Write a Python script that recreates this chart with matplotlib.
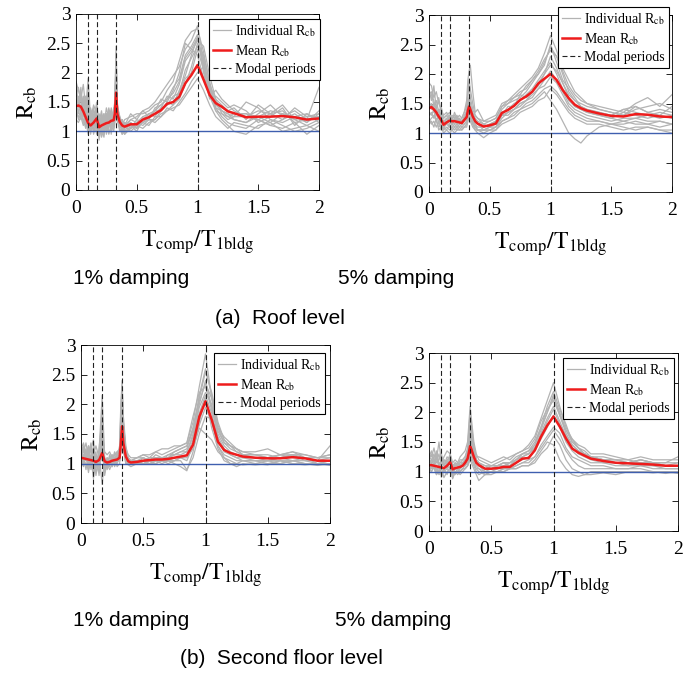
import matplotlib.pyplot as plt
from matplotlib.ticker import FuncFormatter

plt.rcParams['font.family'] = 'Liberation Serif'
plt.rcParams['mathtext.fontset'] = 'stix'

# period ratio grid shared by every curve (finer around the higher modes)
period_ratio = [0.00, 0.02, 0.04, 0.06, 0.08, 0.10, 0.12, 0.145, 0.17, 0.19,
                0.21, 0.23, 0.25, 0.27, 0.29, 0.31, 0.32, 0.33, 0.34, 0.36,
                0.38, 0.40, 0.45, 0.50, 0.55, 0.60, 0.65, 0.70, 0.75, 0.80,
                0.85, 0.90, 0.95, 1.00, 1.05, 1.10, 1.15, 1.20, 1.25, 1.30,
                1.40, 1.50, 1.60, 1.70, 1.80, 1.90, 2.00]
modal_periods = [0.1, 0.17, 0.33, 1.0]

# roof level, 1% damping
roof_1pct_mean = [1.43, 1.44, 1.42, 1.34, 1.24, 1.14, 1.10, 1.15, 1.22, 1.07,
                  1.10, 1.12, 1.14, 1.15, 1.18, 1.19, 1.30, 1.66, 1.30, 1.16,
                  1.10, 1.08, 1.12, 1.12, 1.20, 1.24, 1.30, 1.36, 1.47, 1.50,
                  1.59, 1.82, 1.96, 2.13, 1.88, 1.62, 1.48, 1.42, 1.34, 1.31,
                  1.24, 1.25, 1.25, 1.26, 1.24, 1.20, 1.22]
roof_1pct_runs = [
    [1.85, 1.70, 1.55, 1.80, 1.40, 1.90, 1.20, 1.45, 1.30, 1.05,
     1.25, 1.10, 1.40, 1.20, 1.30, 1.25, 1.55, 2.45, 1.45, 1.25,
     1.15, 1.05, 1.20, 1.25, 1.35, 1.40, 1.50, 1.65, 1.80, 1.95,
     2.10, 2.40, 2.55, 2.80, 2.20, 1.70, 1.45, 1.35, 1.30, 1.20,
     1.15, 1.30, 1.45, 1.25, 1.35, 1.20, 1.75],
    [1.60, 1.75, 1.50, 1.30, 1.55, 1.10, 1.30, 1.00, 1.35, 1.15,
     1.00, 1.30, 1.05, 1.35, 1.10, 1.40, 1.35, 2.10, 1.30, 1.05,
     1.20, 1.00, 1.15, 1.05, 1.25, 1.20, 1.40, 1.45, 1.55, 1.75,
     1.90, 2.30, 2.45, 2.65, 2.00, 1.55, 1.60, 1.50, 1.40, 1.45,
     1.35, 1.15, 1.25, 1.40, 1.10, 1.30, 1.15],
    [1.25, 1.35, 1.45, 1.20, 1.05, 1.30, 0.95, 1.25, 1.10, 0.90,
     1.20, 0.95, 1.15, 1.05, 1.25, 1.05, 1.20, 1.80, 1.15, 1.20,
     0.95, 1.10, 1.00, 1.10, 1.05, 1.15, 1.20, 1.30, 1.35, 1.45,
     1.55, 1.80, 2.10, 2.50, 2.30, 1.85, 1.40, 1.25, 1.15, 1.10,
     1.05, 1.20, 1.10, 1.05, 1.15, 0.95, 1.10],
    [1.45, 1.55, 1.30, 1.40, 1.15, 1.35, 1.05, 1.10, 1.50, 1.00,
     1.15, 1.25, 1.00, 1.30, 1.15, 1.30, 1.40, 2.25, 1.35, 1.10,
     1.05, 1.15, 1.10, 1.00, 1.20, 1.30, 1.25, 1.40, 1.60, 1.55,
     1.80, 2.20, 2.35, 2.55, 2.45, 1.95, 1.55, 1.30, 1.20, 1.25,
     1.50, 1.40, 1.20, 1.15, 1.25, 1.30, 1.20],
    [1.20, 1.15, 1.25, 1.10, 1.20, 0.95, 1.15, 1.05, 1.00, 1.10,
     0.90, 1.05, 1.10, 0.95, 1.10, 1.00, 1.15, 1.60, 1.20, 1.00,
     1.05, 0.95, 1.05, 1.15, 1.10, 1.20, 1.15, 1.25, 1.40, 1.35,
     1.50, 1.65, 1.85, 2.00, 2.10, 1.75, 1.35, 1.20, 1.10, 1.00,
     0.95, 1.10, 1.15, 1.00, 1.05, 1.10, 1.00],
    [1.70, 1.50, 1.65, 1.45, 1.60, 1.25, 1.40, 1.20, 1.15, 1.30,
     1.10, 1.20, 1.30, 1.15, 1.40, 1.15, 1.30, 2.00, 1.40, 1.15,
     1.20, 1.10, 1.30, 1.20, 1.35, 1.25, 1.35, 1.55, 1.50, 1.70,
     2.00, 2.50, 2.40, 2.30, 1.90, 1.60, 1.70, 1.55, 1.45, 1.35,
     1.25, 1.35, 1.30, 1.45, 1.20, 1.25, 1.30],
    [1.30, 1.25, 1.35, 1.15, 1.30, 1.05, 1.00, 1.30, 0.95, 1.20,
     1.05, 0.90, 1.25, 1.00, 1.05, 1.20, 1.25, 1.90, 1.25, 1.05,
     0.95, 1.00, 1.05, 1.10, 1.15, 1.10, 1.25, 1.25, 1.35, 1.40,
     1.45, 1.60, 1.75, 1.90, 1.70, 1.45, 1.25, 1.15, 1.05, 1.15,
     1.10, 1.05, 1.20, 1.10, 1.00, 1.05, 1.15],
    [1.55, 1.40, 1.75, 1.25, 1.45, 1.60, 1.15, 1.35, 1.25, 0.95,
     1.30, 1.15, 1.20, 1.40, 1.20, 1.35, 1.50, 2.35, 1.40, 1.25,
     1.10, 1.20, 1.25, 1.30, 1.30, 1.35, 1.45, 1.50, 1.70, 1.85,
     2.20, 2.55, 2.70, 2.75, 2.35, 1.80, 1.55, 1.45, 1.35, 1.30,
     1.30, 1.25, 1.35, 1.30, 1.25, 1.15, 1.35],
    [1.35, 1.60, 1.20, 1.50, 1.25, 1.70, 1.05, 1.20, 1.45, 1.15,
     1.35, 1.05, 1.30, 1.10, 1.35, 1.10, 1.45, 2.15, 1.50, 1.10,
     1.05, 1.15, 1.05, 1.20, 1.15, 1.25, 1.35, 1.35, 1.45, 1.60,
     1.65, 2.05, 2.25, 2.45, 2.25, 1.65, 1.50, 1.40, 1.35, 1.40,
     1.20, 1.45, 1.30, 1.20, 1.40, 1.25, 1.25],
    [1.50, 1.30, 1.60, 1.35, 1.10, 1.45, 1.25, 0.95, 1.20, 1.05,
     1.20, 1.30, 0.95, 1.20, 1.05, 1.25, 1.25, 1.70, 1.20, 1.15,
     1.00, 1.05, 1.15, 1.05, 1.15, 1.20, 1.20, 1.35, 1.50, 1.45,
     1.70, 1.95, 2.30, 2.60, 2.10, 1.60, 1.35, 1.30, 1.25, 1.20,
     1.15, 1.25, 1.15, 1.30, 1.20, 1.10, 1.20],
    [1.40, 1.20, 1.30, 1.55, 1.35, 1.00, 1.35, 1.15, 1.40, 0.85,
     1.15, 1.00, 1.20, 1.25, 0.95, 1.30, 1.30, 2.05, 1.35, 1.20,
     1.10, 0.95, 1.10, 1.05, 1.20, 1.25, 1.30, 1.40, 1.45, 1.50,
     1.65, 1.90, 2.00, 2.40, 2.05, 1.65, 1.40, 1.35, 1.25, 1.30,
     1.30, 1.20, 1.10, 1.20, 1.30, 1.15, 1.30],
    [1.75, 1.45, 1.40, 1.60, 1.30, 1.50, 1.10, 1.40, 1.05, 1.25,
     0.95, 1.25, 1.15, 1.25, 1.30, 1.10, 1.35, 2.20, 1.30, 1.15,
     1.15, 1.10, 1.20, 1.15, 1.25, 1.30, 1.35, 1.45, 1.55, 1.65,
     1.85, 2.25, 2.40, 2.60, 2.15, 1.75, 1.50, 1.35, 1.30, 1.25,
     1.25, 1.20, 1.30, 1.35, 1.15, 1.20, 1.25],
]

# roof level, 5% damping
roof_5pct_mean = [1.42, 1.44, 1.40, 1.35, 1.28, 1.22, 1.14, 1.18, 1.21, 1.20,
                  1.20, 1.19, 1.18, 1.17, 1.22, 1.27, 1.38, 1.45, 1.40, 1.28,
                  1.20, 1.16, 1.11, 1.13, 1.16, 1.34, 1.39, 1.46, 1.56, 1.62,
                  1.70, 1.84, 1.92, 2.00, 1.90, 1.73, 1.59, 1.48, 1.42, 1.38,
                  1.33, 1.29, 1.28, 1.32, 1.31, 1.28, 1.27]
roof_5pct_runs = [
    [1.85, 1.80, 1.60, 1.70, 1.50, 1.40, 1.30, 1.35, 1.25, 1.30,
     1.25, 1.30, 1.20, 1.25, 1.35, 1.55, 1.90, 2.05, 2.15, 1.70,
     1.35, 1.40, 1.20, 1.25, 1.30, 1.50, 1.55, 1.65, 1.75, 1.85,
     1.95, 2.10, 2.35, 2.65, 2.40, 2.05, 1.80, 1.65, 1.55, 1.50,
     1.45, 1.40, 1.35, 1.50, 1.60, 1.45, 1.65],
    [1.60, 1.65, 1.55, 1.35, 1.40, 1.25, 1.20, 1.15, 1.30, 1.25,
     1.30, 1.20, 1.25, 1.15, 1.30, 1.35, 1.50, 1.60, 1.50, 1.35,
     1.25, 1.20, 1.15, 1.10, 1.20, 1.40, 1.50, 1.55, 1.60, 1.70,
     1.85, 2.00, 2.15, 2.50, 2.20, 1.90, 1.75, 1.60, 1.45, 1.40,
     1.35, 1.30, 1.40, 1.35, 1.30, 1.35, 1.30],
    [1.20, 1.25, 1.30, 1.20, 1.10, 1.15, 1.05, 1.10, 1.05, 1.10,
     1.05, 1.10, 1.05, 1.10, 1.10, 1.15, 1.25, 1.30, 1.25, 1.15,
     1.05, 1.00, 0.92, 1.00, 1.05, 1.20, 1.25, 1.30, 1.40, 1.45,
     1.50, 1.60, 1.70, 1.55, 1.40, 1.20, 1.00, 0.90, 0.83, 0.95,
     1.10, 1.15, 1.10, 1.05, 1.10, 1.05, 1.00],
    [1.50, 1.45, 1.50, 1.40, 1.35, 1.20, 1.15, 1.25, 1.15, 1.20,
     1.15, 1.20, 1.25, 1.20, 1.25, 1.30, 1.45, 1.55, 1.45, 1.30,
     1.20, 1.15, 1.10, 1.15, 1.20, 1.35, 1.40, 1.50, 1.55, 1.65,
     1.75, 1.90, 2.05, 2.20, 2.00, 1.75, 1.55, 1.45, 1.40, 1.35,
     1.30, 1.25, 1.20, 1.25, 1.30, 1.25, 1.30],
    [1.30, 1.35, 1.25, 1.45, 1.15, 1.30, 1.05, 1.20, 1.10, 1.15,
     1.10, 1.15, 1.10, 1.15, 1.15, 1.20, 1.30, 1.40, 1.35, 1.20,
     1.15, 1.05, 1.05, 1.10, 1.10, 1.30, 1.30, 1.40, 1.45, 1.55,
     1.60, 1.75, 1.80, 1.95, 1.85, 1.65, 1.45, 1.35, 1.30, 1.25,
     1.20, 1.15, 1.15, 1.20, 1.15, 1.10, 1.15],
    [1.75, 1.55, 1.80, 1.40, 1.60, 1.35, 1.25, 1.30, 1.35, 1.20,
     1.35, 1.25, 1.30, 1.25, 1.35, 1.45, 1.65, 1.80, 1.60, 1.40,
     1.30, 1.25, 1.20, 1.20, 1.25, 1.45, 1.55, 1.60, 1.70, 1.75,
     1.90, 2.05, 2.25, 2.40, 2.30, 2.10, 1.90, 1.70, 1.60, 1.50,
     1.40, 1.35, 1.30, 1.45, 1.35, 1.40, 1.35],
    [1.15, 1.20, 1.10, 1.25, 1.05, 1.10, 1.00, 1.05, 1.00, 1.05,
     1.00, 1.05, 1.05, 1.05, 1.10, 1.10, 1.20, 1.25, 1.20, 1.10,
     1.05, 1.05, 1.00, 1.05, 1.05, 1.15, 1.20, 1.25, 1.35, 1.40,
     1.45, 1.55, 1.60, 1.75, 1.65, 1.50, 1.35, 1.25, 1.20, 1.15,
     1.15, 1.10, 1.05, 1.10, 1.10, 1.05, 1.05],
    [1.40, 1.50, 1.35, 1.30, 1.25, 1.20, 1.15, 1.20, 1.25, 1.15,
     1.25, 1.15, 1.20, 1.15, 1.20, 1.25, 1.40, 1.50, 1.40, 1.25,
     1.15, 1.10, 1.10, 1.15, 1.20, 1.30, 1.45, 1.45, 1.65, 1.60,
     1.70, 1.80, 2.00, 2.15, 2.05, 1.85, 1.65, 1.55, 1.50, 1.45,
     1.40, 1.35, 1.30, 1.40, 1.45, 1.50, 1.40],
    [1.65, 1.70, 1.45, 1.55, 1.35, 1.45, 1.25, 1.30, 1.20, 1.25,
     1.20, 1.25, 1.15, 1.20, 1.25, 1.40, 1.70, 1.90, 1.75, 1.50,
     1.30, 1.25, 1.15, 1.20, 1.25, 1.45, 1.50, 1.60, 1.65, 1.80,
     1.90, 2.00, 2.20, 2.45, 2.30, 2.00, 1.70, 1.55, 1.45, 1.40,
     1.35, 1.30, 1.40, 1.45, 1.35, 1.30, 1.45],
    [1.35, 1.30, 1.40, 1.20, 1.30, 1.15, 1.10, 1.15, 1.10, 1.10,
     1.15, 1.10, 1.15, 1.10, 1.15, 1.20, 1.30, 1.40, 1.30, 1.20,
     1.10, 1.05, 1.05, 1.05, 1.10, 1.25, 1.35, 1.40, 1.50, 1.55,
     1.65, 1.75, 1.90, 2.05, 1.90, 1.70, 1.50, 1.40, 1.35, 1.30,
     1.25, 1.20, 1.25, 1.25, 1.20, 1.20, 1.15],
    [1.55, 1.40, 1.45, 1.30, 1.40, 1.30, 1.20, 1.25, 1.20, 1.15,
     1.20, 1.25, 1.20, 1.20, 1.20, 1.30, 1.35, 1.45, 1.35, 1.25,
     1.20, 1.15, 1.05, 1.10, 1.15, 1.30, 1.35, 1.40, 1.50, 1.55,
     1.70, 1.85, 2.00, 2.30, 2.10, 1.85, 1.60, 1.45, 1.40, 1.35,
     1.30, 1.25, 1.35, 1.30, 1.25, 1.30, 1.25],
    [1.25, 1.15, 1.20, 1.10, 1.20, 1.05, 1.10, 1.05, 1.15, 1.05,
     1.10, 1.05, 1.10, 1.05, 1.10, 1.15, 1.25, 1.35, 1.30, 1.15,
     1.10, 1.05, 1.05, 1.05, 1.10, 1.20, 1.25, 1.35, 1.40, 1.50,
     1.55, 1.65, 1.75, 1.80, 1.70, 1.55, 1.40, 1.30, 1.25, 1.20,
     1.20, 1.15, 1.20, 1.15, 1.15, 1.20, 1.15],
]

# second floor level, 1% damping
floor2_1pct_mean = [1.10, 1.09, 1.08, 1.07, 1.06, 1.05, 1.03, 1.06, 1.18, 1.04,
                    1.02, 1.03, 1.05, 1.06, 1.07, 1.10, 1.35, 1.63, 1.35, 1.12,
                    1.04, 1.02, 1.03, 1.05, 1.06, 1.07, 1.07, 1.08, 1.10, 1.12,
                    1.14, 1.32, 1.79, 2.05, 1.74, 1.37, 1.23, 1.18, 1.15, 1.12,
                    1.10, 1.09, 1.09, 1.11, 1.09, 1.05, 1.05]
floor2_1pct_runs = [
    [1.30, 1.20, 1.35, 1.10, 1.25, 1.40, 0.95, 1.20, 2.15, 1.10,
     0.95, 1.15, 1.05, 1.20, 1.10, 1.30, 2.00, 2.40, 1.80, 1.30,
     1.10, 1.05, 1.10, 1.15, 1.10, 1.20, 1.15, 1.20, 1.25, 1.30,
     1.35, 1.70, 2.30, 2.85, 2.10, 1.55, 1.35, 1.25, 1.20, 1.15,
     1.15, 1.10, 1.15, 1.20, 1.10, 1.05, 1.30],
    [1.15, 1.25, 1.05, 1.20, 0.90, 1.10, 1.20, 0.80, 1.35, 0.95,
     1.10, 0.95, 1.15, 1.00, 1.20, 1.05, 1.60, 2.20, 1.60, 1.20,
     1.00, 1.05, 1.00, 1.10, 1.05, 1.05, 1.10, 1.10, 1.15, 1.20,
     1.20, 1.50, 2.00, 2.40, 1.95, 1.45, 1.25, 1.15, 1.10, 1.10,
     1.05, 1.05, 1.10, 1.05, 1.10, 1.00, 1.05],
    [1.05, 0.95, 1.15, 0.85, 1.10, 0.75, 1.05, 1.15, 0.65, 1.10,
     0.90, 1.05, 0.95, 1.10, 0.95, 1.00, 1.20, 1.60, 1.25, 1.00,
     0.98, 0.95, 1.00, 1.00, 1.00, 1.00, 1.05, 1.00, 1.05, 1.05,
     0.90, 1.10, 1.50, 1.80, 1.75, 1.30, 1.10, 1.00, 0.95, 1.00,
     0.98, 1.00, 1.00, 1.05, 1.00, 0.97, 1.00],
    [1.20, 1.10, 1.25, 1.00, 1.30, 1.05, 0.90, 1.25, 1.80, 0.90,
     1.05, 1.10, 1.15, 1.05, 1.15, 1.20, 1.80, 2.30, 1.50, 1.15,
     1.05, 1.00, 1.05, 1.05, 1.10, 1.10, 1.05, 1.15, 1.15, 1.20,
     1.25, 1.60, 2.10, 2.55, 2.20, 1.70, 1.40, 1.30, 1.25, 1.20,
     1.15, 1.15, 1.10, 1.15, 1.15, 1.10, 1.10],
    [1.00, 1.10, 0.90, 1.15, 0.95, 1.20, 0.85, 1.00, 1.10, 1.00,
     1.00, 0.90, 1.00, 1.05, 1.00, 1.10, 1.25, 1.40, 1.20, 1.05,
     1.00, 1.00, 1.00, 1.05, 1.00, 1.05, 1.00, 1.05, 1.05, 1.10,
     1.10, 1.25, 1.60, 1.50, 1.40, 1.20, 1.10, 1.05, 1.00, 1.05,
     1.00, 1.05, 1.05, 1.00, 1.00, 1.00, 0.97],
    [1.25, 1.35, 1.15, 1.30, 1.20, 1.15, 1.30, 1.10, 1.50, 1.20,
     1.15, 1.20, 1.10, 1.15, 1.20, 1.25, 1.70, 2.10, 1.70, 1.25,
     1.15, 1.10, 1.10, 1.15, 1.15, 1.20, 1.25, 1.25, 1.30, 1.30,
     1.35, 1.80, 2.20, 2.30, 1.90, 1.60, 1.45, 1.35, 1.25, 1.20,
     1.20, 1.25, 1.15, 1.20, 1.15, 1.10, 1.15],
    [1.10, 1.00, 1.20, 0.95, 1.15, 0.90, 1.10, 0.85, 1.25, 0.80,
     1.05, 1.00, 1.10, 0.95, 1.05, 1.05, 1.40, 1.90, 1.40, 1.05,
     1.05, 0.98, 1.05, 1.00, 1.05, 1.00, 1.05, 1.05, 1.00, 0.95,
     0.88, 1.20, 1.70, 2.10, 1.60, 1.25, 1.05, 1.00, 1.00, 0.98,
     1.00, 0.98, 1.05, 1.00, 0.98, 1.00, 1.00],
    [1.15, 1.20, 1.10, 1.25, 1.05, 1.30, 1.00, 1.15, 1.60, 1.05,
     1.00, 1.10, 1.05, 1.15, 1.05, 1.15, 1.50, 2.00, 1.55, 1.10,
     1.05, 1.05, 1.05, 1.10, 1.05, 1.10, 1.10, 1.10, 1.15, 1.15,
     1.20, 1.45, 1.95, 2.20, 2.00, 1.50, 1.30, 1.20, 1.15, 1.10,
     1.10, 1.05, 1.10, 1.15, 1.05, 1.05, 1.05],
    [1.20, 1.30, 1.05, 1.15, 1.35, 0.85, 1.15, 1.05, 1.70, 0.95,
     1.10, 1.00, 1.10, 1.05, 1.10, 1.15, 1.70, 2.25, 1.65, 1.15,
     1.05, 1.05, 1.10, 1.10, 1.05, 1.15, 1.10, 1.10, 1.20, 1.25,
     1.30, 1.60, 2.05, 2.35, 2.10, 1.60, 1.35, 1.30, 1.20, 1.15,
     1.10, 1.10, 1.15, 1.10, 1.10, 1.05, 1.10],
    [1.05, 1.15, 1.20, 1.05, 0.95, 1.25, 1.05, 0.95, 1.40, 0.85,
     1.00, 1.05, 0.95, 1.05, 1.10, 1.10, 1.40, 2.00, 1.45, 1.05,
     1.00, 1.00, 1.05, 1.00, 1.05, 1.05, 1.05, 1.05, 1.10, 1.10,
     1.15, 1.40, 1.85, 2.15, 1.85, 1.40, 1.20, 1.15, 1.10, 1.05,
     1.05, 1.05, 1.00, 1.05, 1.05, 1.00, 1.05],
    [1.25, 1.05, 1.10, 1.30, 1.00, 1.15, 0.80, 1.10, 1.90, 1.00,
     1.05, 1.10, 1.00, 1.10, 1.15, 1.20, 1.90, 2.30, 1.70, 1.20,
     1.10, 1.05, 1.05, 1.05, 1.10, 1.10, 1.10, 1.15, 1.20, 1.25,
     1.30, 1.55, 2.15, 2.60, 2.15, 1.65, 1.40, 1.30, 1.25, 1.15,
     1.15, 1.10, 1.15, 1.15, 1.10, 1.10, 1.15],
    [0.95, 1.05, 1.00, 0.90, 1.05, 1.10, 0.95, 1.05, 1.20, 0.95,
     0.98, 1.00, 1.05, 1.00, 1.05, 1.05, 1.30, 1.70, 1.30, 1.00,
     1.00, 1.00, 1.00, 1.05, 1.00, 1.05, 1.05, 1.05, 1.05, 1.10,
     1.05, 1.30, 1.65, 1.95, 1.70, 1.30, 1.15, 1.10, 1.05, 1.05,
     1.05, 1.00, 1.05, 1.05, 1.00, 1.00, 1.00],
]

# second floor level, 5% damping
floor2_5pct_mean = [1.11, 1.11, 1.10, 1.09, 1.08, 1.07, 1.06, 1.10, 1.16, 1.04,
                    1.06, 1.07, 1.08, 1.10, 1.15, 1.22, 1.32, 1.43, 1.38, 1.25,
                    1.15, 1.11, 1.05, 1.05, 1.06, 1.08, 1.08, 1.15, 1.22, 1.23,
                    1.36, 1.59, 1.78, 1.93, 1.76, 1.56, 1.39, 1.32, 1.27, 1.22,
                    1.18, 1.15, 1.14, 1.13, 1.12, 1.10, 1.10]
floor2_5pct_runs = [
    [1.30, 1.25, 1.40, 1.20, 1.50, 1.15, 1.25, 1.35, 1.30, 1.15,
     1.20, 1.15, 1.25, 1.30, 1.35, 1.50, 1.80, 2.10, 1.90, 1.50,
     1.30, 1.20, 1.15, 1.10, 1.15, 1.20, 1.25, 1.30, 1.35, 1.45,
     1.60, 1.90, 2.20, 2.50, 2.10, 1.75, 1.55, 1.40, 1.30, 1.25,
     1.20, 1.20, 1.15, 1.20, 1.15, 1.15, 1.25],
    [1.15, 1.20, 1.10, 1.25, 1.05, 1.10, 1.00, 1.15, 1.20, 0.95,
     1.05, 1.00, 1.05, 1.10, 1.15, 1.25, 1.40, 1.55, 1.50, 1.30,
     1.20, 1.10, 1.00, 1.05, 1.05, 1.10, 1.10, 1.20, 1.25, 1.30,
     1.45, 1.75, 2.00, 2.30, 1.95, 1.65, 1.45, 1.35, 1.30, 1.25,
     1.20, 1.15, 1.15, 1.15, 1.10, 1.10, 1.10],
    [1.05, 1.00, 1.10, 0.95, 1.00, 1.05, 0.90, 1.00, 1.05, 0.90,
     1.00, 0.95, 1.00, 1.05, 1.05, 1.10, 1.15, 1.20, 1.15, 1.05,
     0.95, 0.85, 0.95, 0.95, 1.00, 1.00, 1.05, 1.05, 1.10, 1.10,
     1.20, 1.35, 1.50, 1.45, 1.20, 1.05, 0.95, 0.92, 0.95, 1.00,
     1.00, 1.00, 1.00, 1.00, 0.98, 1.00, 0.97],
    [1.20, 1.30, 1.15, 1.35, 1.10, 1.20, 1.15, 1.05, 1.25, 1.10,
     1.10, 1.15, 1.10, 1.15, 1.20, 1.30, 1.50, 1.75, 1.60, 1.35,
     1.20, 1.15, 1.10, 1.05, 1.10, 1.15, 1.10, 1.20, 1.30, 1.35,
     1.50, 1.75, 2.10, 2.35, 2.05, 1.80, 1.50, 1.40, 1.30, 1.25,
     1.25, 1.20, 1.20, 1.15, 1.15, 1.10, 1.15],
    [1.10, 1.05, 1.15, 1.00, 1.10, 0.95, 1.05, 1.10, 1.15, 1.00,
     0.95, 1.05, 1.00, 1.05, 1.10, 1.15, 1.25, 1.35, 1.30, 1.15,
     1.05, 1.05, 0.95, 1.00, 1.00, 1.05, 1.05, 1.10, 1.15, 1.15,
     1.25, 1.45, 1.60, 1.75, 1.65, 1.40, 1.25, 1.20, 1.15, 1.10,
     1.10, 1.05, 1.05, 1.10, 1.05, 1.05, 1.05],
    [1.25, 1.20, 1.30, 1.15, 1.20, 1.30, 1.10, 1.25, 1.20, 1.10,
     1.15, 1.10, 1.20, 1.20, 1.25, 1.40, 1.70, 2.00, 1.80, 1.45,
     1.25, 1.25, 1.20, 1.15, 1.20, 1.25, 1.20, 1.30, 1.35, 1.40,
     1.55, 1.85, 2.05, 2.20, 1.95, 1.70, 1.55, 1.45, 1.40, 1.30,
     1.30, 1.25, 1.20, 1.25, 1.20, 1.20, 1.20],
    [1.00, 1.10, 1.05, 0.95, 1.15, 0.90, 1.05, 0.95, 1.10, 0.88,
     1.00, 1.00, 0.95, 1.00, 1.05, 1.10, 1.15, 1.25, 1.20, 1.10,
     1.00, 0.95, 1.00, 1.00, 1.00, 1.00, 1.05, 1.05, 1.10, 1.10,
     1.15, 1.30, 1.40, 1.60, 1.45, 1.20, 1.05, 1.00, 0.95, 0.95,
     0.98, 0.95, 1.00, 1.00, 1.00, 0.97, 1.00],
    [1.15, 1.15, 1.20, 1.10, 1.05, 1.15, 1.10, 1.20, 1.25, 1.05,
     1.10, 1.10, 1.15, 1.15, 1.20, 1.30, 1.45, 1.65, 1.50, 1.30,
     1.15, 1.10, 1.05, 1.05, 1.10, 1.10, 1.15, 1.20, 1.30, 1.30,
     1.40, 1.65, 1.90, 2.10, 1.85, 1.60, 1.40, 1.30, 1.25, 1.20,
     1.15, 1.15, 1.10, 1.15, 1.15, 1.10, 1.10],
    [1.20, 1.15, 1.25, 1.30, 1.15, 1.10, 1.20, 1.15, 1.30, 1.05,
     1.15, 1.10, 1.15, 1.20, 1.25, 1.35, 1.55, 1.85, 1.70, 1.40,
     1.20, 1.15, 1.10, 1.10, 1.10, 1.15, 1.15, 1.25, 1.30, 1.35,
     1.45, 1.70, 2.00, 2.25, 2.00, 1.70, 1.50, 1.40, 1.35, 1.25,
     1.20, 1.20, 1.15, 1.20, 1.15, 1.15, 1.15],
    [1.10, 1.15, 1.05, 1.10, 1.00, 1.10, 1.05, 1.10, 1.05, 1.00,
     1.05, 1.05, 1.05, 1.10, 1.10, 1.20, 1.30, 1.45, 1.40, 1.20,
     1.10, 1.05, 1.00, 1.00, 1.05, 1.05, 1.10, 1.15, 1.20, 1.25,
     1.35, 1.55, 1.75, 1.95, 1.75, 1.50, 1.35, 1.25, 1.20, 1.15,
     1.15, 1.10, 1.10, 1.10, 1.10, 1.05, 1.05],
    [1.25, 1.35, 1.20, 1.15, 1.30, 1.10, 1.20, 1.10, 1.15, 1.05,
     1.10, 1.15, 1.10, 1.15, 1.20, 1.25, 1.40, 1.60, 1.55, 1.35,
     1.20, 1.15, 1.05, 1.10, 1.10, 1.15, 1.15, 1.20, 1.25, 1.30,
     1.40, 1.60, 1.85, 2.05, 1.80, 1.60, 1.45, 1.35, 1.30, 1.25,
     1.20, 1.15, 1.15, 1.20, 1.15, 1.10, 1.10],
    [1.05, 1.00, 1.10, 1.05, 0.95, 1.00, 1.00, 1.05, 1.00, 0.95,
     1.00, 1.00, 1.00, 1.05, 1.05, 1.10, 1.20, 1.30, 1.25, 1.15,
     1.05, 1.00, 0.95, 1.00, 1.00, 1.05, 1.05, 1.10, 1.15, 1.20,
     1.25, 1.40, 1.55, 1.70, 1.55, 1.35, 1.20, 1.10, 1.05, 1.05,
     1.05, 1.05, 1.05, 1.05, 1.00, 1.00, 1.00],
]

W, H = 691, 679
fig = plt.figure(figsize=(W / 100, H / 100), dpi=100)


def px_axes(left, top, right, bottom):
    # axes from pixel edges (origin top-left)
    return fig.add_axes([left / W, 1 - bottom / H, (right - left) / W, (bottom - top) / H])


def draw_panel(ax, mean, runs, legend_corner):
    for i, run in enumerate(runs):
        ax.plot(period_ratio, run, color='#b3b3b3', lw=0.9,
                label=r'Individual R$_{\mathrm{cb}}$' if i == 0 else None)
    ax.axhline(1.0, color='#3f5faf', lw=1.0)
    ax.plot(period_ratio, mean, color='#ee1c1c', lw=1.8, label=r'Mean R$_{\mathrm{cb}}$')
    for i, tp in enumerate(modal_periods):
        ax.axvline(tp, color='#222222', lw=0.8, dashes=(4.5, 2.5),
                   label='Modal periods' if i == 0 else None)

    ax.set_xlim(0, 2)
    ax.set_ylim(0, 3)
    ax.set_xticks([0, 0.5, 1, 1.5, 2])
    ax.set_yticks([0, 0.5, 1, 1.5, 2, 2.5, 3])
    fmt = FuncFormatter(lambda v, _: '%g' % v)
    ax.xaxis.set_major_formatter(fmt)
    ax.yaxis.set_major_formatter(fmt)
    ax.tick_params(direction='in', top=True, right=True, length=4, width=0.6,
                   labelsize=14)
    ax.tick_params(axis='x', pad=7)
    ax.tick_params(axis='y', pad=4)
    for sp in ax.spines.values():
        sp.set_linewidth(0.6)
    ax.set_xlabel(r'$\mathrm{T_{comp}/T_{1bldg}}$', fontsize=17, labelpad=8)
    ax.set_ylabel(r'$\mathrm{R_{cb}}$', fontsize=17, labelpad=5)

    leg = ax.legend(loc='upper right', bbox_to_anchor=(legend_corner[0] / W, 1 - legend_corner[1] / H),
                    bbox_transform=fig.transFigure, borderaxespad=0, fontsize=10,
                    frameon=True, fancybox=False, framealpha=1, edgecolor='black',
                    handlelength=1.3, handletextpad=0.3, labelspacing=0.3,
                    borderpad=0.3)
    leg.get_frame().set_linewidth(0.8)


ax_a1 = px_axes(76, 14, 319, 190)
ax_a2 = px_axes(429, 15, 672, 192)
ax_b1 = px_axes(81, 345, 330, 523)
ax_b2 = px_axes(429, 353, 678, 531)

draw_panel(ax_a1, roof_1pct_mean, roof_1pct_runs, (320, 19))
draw_panel(ax_a2, roof_5pct_mean, roof_5pct_runs, (669, 7))
draw_panel(ax_b1, floor2_1pct_mean, floor2_1pct_runs, (325, 353))
draw_panel(ax_b2, floor2_5pct_mean, floor2_5pct_runs, (674, 358))

caption = dict(family='Liberation Sans', fontsize=15, ha='center', va='center')
fig.text(131 / W, 1 - 279 / H, '1% damping', **caption)
fig.text(396 / W, 1 - 279 / H, '5% damping', **caption)
fig.text(280 / W, 1 - 319 / H, '(a)  Roof level', **caption)
fig.text(131 / W, 1 - 620 / H, '1% damping', **caption)
fig.text(393 / W, 1 - 620 / H, '5% damping', **caption)
fig.text(281 / W, 1 - 659 / H, '(b)  Second floor level', **caption)

fig.savefig('out.png', dpi=100)
